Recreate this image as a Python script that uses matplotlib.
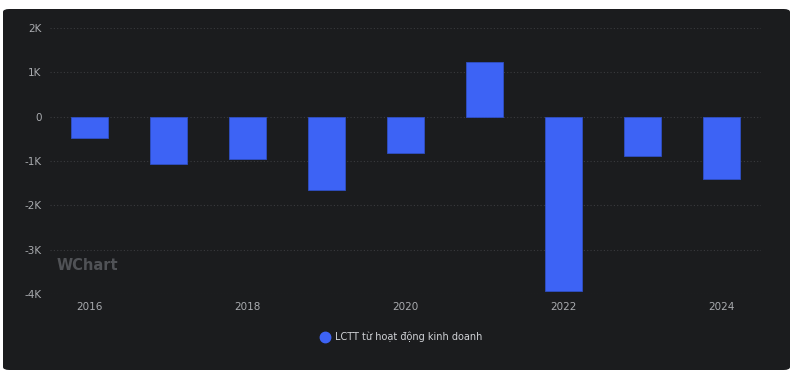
import matplotlib
matplotlib.use("Agg")
import matplotlib.pyplot as plt
from matplotlib.patches import FancyBboxPatch
from matplotlib.lines import Line2D
from matplotlib.ticker import FuncFormatter

years = [2016, 2017, 2018, 2019, 2020, 2021, 2022, 2023, 2024]
values = [-475, -1060, -950, -1650, -810, 1240, -3930, -880, -1400]
tick_years = [2016, 2018, 2020, 2022, 2024]
series_name = "LCTT từ hoạt động kinh doanh"

W, H = 793, 373
fig = plt.figure(figsize=(W / 100, H / 100), dpi=100)
fig.patch.set_facecolor("white")
bg = FancyBboxPatch((3 / W, 3 / H), 787 / W, 361 / H,
                    boxstyle="round,pad=0,rounding_size=0.008",
                    transform=fig.transFigure, facecolor="#1b1c1e",
                    edgecolor="none", zorder=-10)
fig.patches.append(bg)

ax = fig.add_axes([50 / W, 1 - 294 / H, (761 - 50) / W, (294 - 28) / H])
ax.set_facecolor("none")
ax.bar(years, values, width=0.48, color="#3d63f5", edgecolor="#2f4fc4",
       linewidth=0.6, zorder=3)
ax.set_xlim(2015.5, 2024.5)
ax.set_ylim(-4000, 2000)
ax.set_yticks([-4000, -3000, -2000, -1000, 0, 1000, 2000])

def fmt(v, _):
    if v == 0:
        return "0"
    return f"{int(v/1000)}K"

ax.yaxis.set_major_formatter(FuncFormatter(fmt))
ax.set_xticks(tick_years)
ax.set_xticklabels([str(y) for y in tick_years])
ax.grid(axis="y", color="#3a3b3e", linestyle=(0, (1, 2)), linewidth=0.8, zorder=0)
for s in ax.spines.values():
    s.set_visible(False)
ax.tick_params(axis="both", length=0, colors="#a9abaf", labelsize=7.5)
ax.tick_params(axis="y", pad=6)
ax.tick_params(axis="x", pad=5.5)

fig.text(57 / W, 1 - 265 / H, "WChart", fontsize=10.5, fontweight="bold",
         color="#505256", va="center", ha="left", zorder=1)

handle = Line2D([], [], marker="o", linestyle="none", markersize=7.5,
                markerfacecolor="#3d63f5", markeredgecolor="#3d63f5")
fig.legend([handle], [series_name], loc="center", bbox_to_anchor=(401 / W, 1 - 337 / H),
           frameon=False, fontsize=7, labelcolor="#d0d2d6", handletextpad=0.5,
           handlelength=1.0)

fig.savefig("out.png", dpi=100, facecolor="white")
